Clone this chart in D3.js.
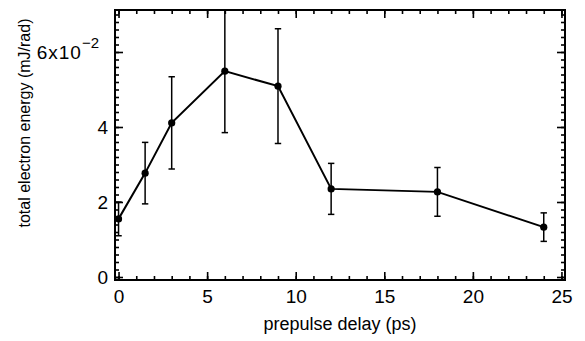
<!DOCTYPE html>
<html>
<head>
<meta charset="utf-8">
<script src="https://cdn.jsdelivr.net/npm/d3@7"></script>
<style>
  body { margin: 0; background: #fff; }
  text { font-family: "Liberation Sans", Arial, Helvetica, sans-serif; fill: #000; }
</style>
</head>
<body>
<div id="chart"></div>
<script>
// prepulse delay (ps)
const delay = [0, 1.5, 3, 6, 9, 12, 18, 24];
// total electron energy, units of 1e-2 mJ/rad
const energy = [1.55, 2.77, 4.11, 5.49, 5.09, 2.35, 2.27, 1.33];
const energyErr = [0.45, 0.82, 1.23, 1.64, 1.53, 0.68, 0.65, 0.38];

const xTicks = [0, 5, 10, 15, 20, 25];
const yTicks = [0, 2, 4, 6];

const W = 585, H = 341;
const mLeft = 115, mRight = 565, mTop = 10, mBottom = 280;

const svg = d3.select('#chart').append('svg')
    .attr('width', W)
    .attr('height', H);

const x = d3.scaleLinear().domain([-0.2, 25.2]).range([mLeft, mRight]);
const y = d3.scaleLinear().domain([-0.08, 7.12]).range([mBottom, mTop]);

// ticks all point inward
function addAxis(maker, scale, translate, majors, minors, labels) {
    const g = svg.append('g').attr('transform', translate);
    g.append('g').call(maker(scale).tickValues(minors).tickSize(-4).tickFormat(''));
    const gm = g.append('g').call(maker(scale).tickValues(majors).tickSize(-8)
        .tickPadding(maker === d3.axisBottom ? 10 : 7)
        .tickFormat(labels ? d3.format('d') : ''));
    g.selectAll('.domain').remove();
    g.selectAll('.tick line').attr('stroke', '#000').attr('stroke-width', 1.6);
    gm.selectAll('text').style('font-size', '19px').attr('fill', '#000');
    return gm;
}

const xMinor = d3.range(0, 26, 1);
const yMinor = d3.range(0, 7.1, 0.2);

addAxis(d3.axisBottom, x, `translate(0,${mBottom})`, xTicks, xMinor, true);
addAxis(d3.axisTop, x, `translate(0,${mTop})`, xTicks, xMinor, false);
const gy = addAxis(d3.axisLeft, y, `translate(${mLeft},0)`, yTicks, yMinor, true);
addAxis(d3.axisRight, y, `translate(${mRight},0)`, yTicks, yMinor, false);

// 6x10^-2 label
const six = gy.selectAll('.tick text').filter(d => d === 6)
    .attr('x', -16)
    .style('letter-spacing', '1px')
    .text('6x10');
six.append('tspan')
    .attr('dx', 0)
    .attr('dy', -11)
    .style('font-size', '15px')
    .style('letter-spacing', '0px')
    .text('\u22122');

// frame
svg.append('rect')
    .attr('x', mLeft).attr('y', mTop)
    .attr('width', mRight - mLeft).attr('height', mBottom - mTop)
    .attr('fill', 'none').attr('stroke', '#000').attr('stroke-width', 2);

svg.append('clipPath').attr('id', 'clip')
    .append('rect')
    .attr('x', mLeft).attr('y', mTop)
    .attr('width', mRight - mLeft).attr('height', mBottom - mTop);

const plot = svg.append('g').attr('clip-path', 'url(#clip)');

const pts = delay.map((d, i) => ({ x: d, y: energy[i], e: energyErr[i] }));

// error bars
const eb = plot.selectAll('.err').data(pts).enter().append('g').attr('class', 'err')
    .attr('stroke', '#000').attr('stroke-width', 1.5);
eb.append('line')
    .attr('x1', d => x(d.x)).attr('x2', d => x(d.x))
    .attr('y1', d => y(d.y - d.e)).attr('y2', d => y(d.y + d.e));
eb.append('line')
    .attr('x1', d => x(d.x) - 3.2).attr('x2', d => x(d.x) + 3.2)
    .attr('y1', d => y(d.y - d.e)).attr('y2', d => y(d.y - d.e));
eb.append('line')
    .attr('x1', d => x(d.x) - 3.2).attr('x2', d => x(d.x) + 3.2)
    .attr('y1', d => y(d.y + d.e)).attr('y2', d => y(d.y + d.e));

// connecting line
const line = d3.line().x(d => x(d.x)).y(d => y(d.y));
plot.append('path')
    .datum(pts)
    .attr('d', line)
    .attr('fill', 'none')
    .attr('stroke', '#000')
    .attr('stroke-width', 2);

plot.selectAll('.pt').data(pts).enter().append('circle')
    .attr('cx', d => x(d.x)).attr('cy', d => y(d.y))
    .attr('r', 3.6)
    .attr('fill', '#000');

// axis titles
svg.append('text')
    .attr('x', 340)
    .attr('y', 330)
    .attr('text-anchor', 'middle')
    .style('font-size', '18px')
    .text('prepulse delay (ps)');

svg.append('text')
    .attr('transform', 'translate(30,123) rotate(-90)')
    .attr('text-anchor', 'middle')
    .style('font-size', '16px')
    .text('total electron energy (mJ/rad)');
</script>
</body>
</html>
